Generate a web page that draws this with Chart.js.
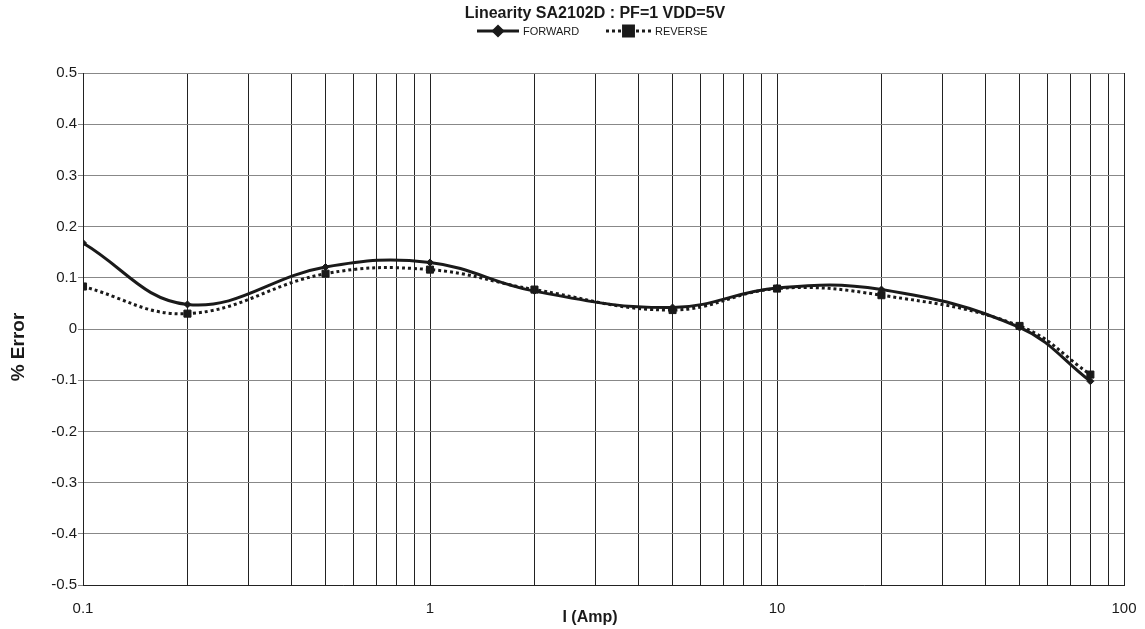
<!DOCTYPE html>
<html>
<head>
<meta charset="utf-8">
<script src="https://cdn.jsdelivr.net/npm/chart.js@4/dist/chart.umd.min.js"></script>
<style>
html,body{margin:0;padding:0;background:#fff;}
#wrap{width:1145px;height:629px;position:relative;}
</style>
</head>
<body>
<div id="wrap"><canvas id="c" width="1145" height="629"></canvas></div>
<script>
const currents = [0.1, 0.2, 0.5, 1, 2, 5, 10, 20, 50, 80];
const forwardErr = [0.168, 0.048, 0.121, 0.130, 0.074, 0.042, 0.080, 0.077, 0.003, -0.102];
const reverseErr = [0.083, 0.030, 0.108, 0.116, 0.077, 0.037, 0.079, 0.066, 0.006, -0.089];
const xGridValues = [0.1,0.2,0.3,0.4,0.5,0.6,0.7,0.8,0.9,1,2,3,4,5,6,7,8,9,10,20,30,40,50,60,70,80,90,100];
const xTickLabels = {0.1:'0.1', 1:'1', 10:'10', 100:'100'};
const yTickValues = [-0.5,-0.4,-0.3,-0.2,-0.1,0,0.1,0.2,0.3,0.4,0.5];
const titleText = 'Linearity SA2102D : PF=1 VDD=5V';
const xTitle = 'I (Amp)';
const yTitle = '% Error';
const seriesNames = ['FORWARD', 'REVERSE'];

const FONT = "'Liberation Sans', Arial, sans-serif";
const INK = '#1a1a1a';

const textPlugin = {
  id: 'customText',
  afterDraw(chart) {
    const ctx = chart.ctx;
    const ds = chart.data.datasets;
    ctx.save();
    ctx.fillStyle = INK;
    ctx.textAlign = 'center';
    ctx.textBaseline = 'middle';
    ctx.font = 'bold 16px ' + FONT;
    ctx.fillText(titleText, 595, 14);
    const y = 31;
    const items = [
      {x: 477, len: 42, ds: ds[0], style: 'rectRot', r: 4.5},
      {x: 606, len: 45, ds: ds[1], style: 'rect', r: 7}
    ];
    items.forEach(it => {
      ctx.strokeStyle = INK;
      ctx.lineWidth = 3;
      ctx.setLineDash(it.ds.borderDash || []);
      ctx.beginPath();
      ctx.moveTo(it.x, y);
      ctx.lineTo(it.x + it.len, y);
      ctx.stroke();
      ctx.setLineDash([]);
      ctx.fillStyle = INK;
      ctx.strokeStyle = INK;
      Chart.helpers.drawPoint(ctx, {pointStyle: it.style, radius: it.r, borderWidth: 1, rotation: 0}, it.x + it.len / 2, y);
      ctx.fillStyle = INK;
      ctx.font = '11px ' + FONT;
      ctx.textBaseline = 'middle';
      ctx.textAlign = 'left';
      ctx.fillText(it.ds.label, it.x + it.len + 4, y + 0.5);
    });
    ctx.font = 'bold 16px ' + FONT;
    ctx.textAlign = 'center';
    ctx.textBaseline = 'middle';
    ctx.fillText(xTitle, 590, 618);
    ctx.translate(19, 347);
    ctx.rotate(-Math.PI / 2);
    ctx.font = 'bold 19px ' + FONT;
    ctx.fillText(yTitle, 0, 0);
    ctx.restore();
  }
};

new Chart(document.getElementById('c'), {
  type: 'line',
  data: {
    datasets: [
      {
        label: seriesNames[0],
        data: currents.map((x, i) => ({x, y: forwardErr[i]})),
        borderColor: INK,
        backgroundColor: INK,
        borderWidth: 3,
        pointStyle: 'rectRot',
        pointRadius: 3.5,
        pointBorderWidth: 1,
        tension: 0.4,
        fill: false
      },
      {
        label: seriesNames[1],
        data: currents.map((x, i) => ({x, y: reverseErr[i]})),
        borderColor: INK,
        backgroundColor: INK,
        borderWidth: 3,
        borderDash: [3, 3],
        pointStyle: 'rect',
        pointRadius: 5,
        pointBorderWidth: 1,
        tension: 0.4,
        fill: false
      }
    ]
  },
  options: {
    responsive: false,
    animation: false,
    devicePixelRatio: 1,
    layout: {padding: {left: 0, right: 21, top: 73, bottom: 0}},
    plugins: {
      legend: {display: false},
      tooltip: {enabled: false},
      title: {display: false}
    },
    scales: {
      x: {
        type: 'logarithmic',
        min: 0.1,
        max: 100,
        afterBuildTicks: (axis) => { axis.ticks = xGridValues.map(v => ({value: v})); },
        afterFit: (s) => { s.height = 44; s.paddingRight = 0; s.paddingLeft = 0; },
        ticks: {
          autoSkip: false,
          maxRotation: 0,
          minRotation: 0,
          padding: 15,
          color: INK,
          font: {family: FONT, size: 15},
          callback: function(v) { return xTickLabels[v] !== undefined ? xTickLabels[v] : ''; }
        },
        grid: {color: '#222', lineWidth: 1, drawTicks: false},
        border: {color: '#222', width: 1}
      },
      y: {
        type: 'linear',
        min: -0.5,
        max: 0.5,
        afterBuildTicks: (axis) => { axis.ticks = yTickValues.map(v => ({value: v})); },
        afterFit: (s) => { s.width = 83; s.paddingTop = 0; s.paddingBottom = 0; },
        ticks: {
          padding: 1,
          color: INK,
          font: {family: FONT, size: 15},
          callback: function(v) { return Math.abs(v) < 1e-9 ? '0' : (Math.round(v * 10) / 10).toString(); }
        },
        grid: {color: '#888', lineWidth: 1, tickLength: 5},
        border: {color: '#222', width: 1}
      }
    }
  },
  plugins: [textPlugin]
});
</script>
</body>
</html>
